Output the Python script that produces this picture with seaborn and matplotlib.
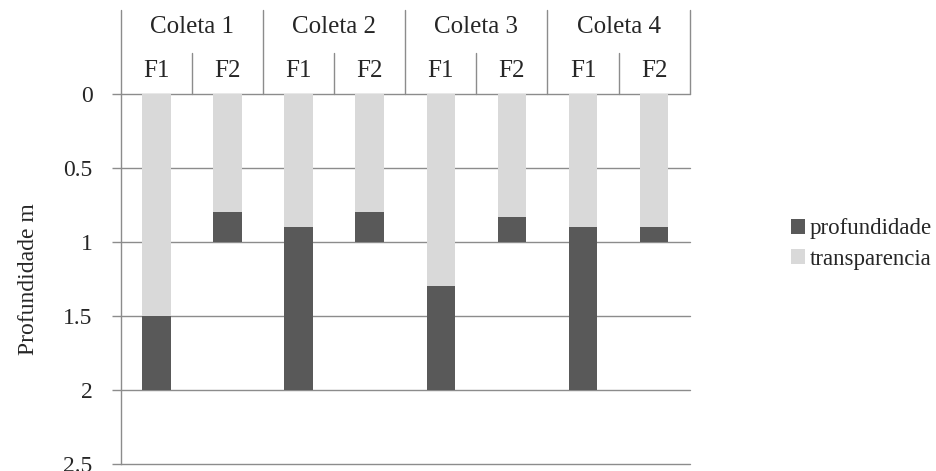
import matplotlib
matplotlib.use("Agg")
import matplotlib.pyplot as plt
import seaborn as sns
import pandas as pd

# Sampling campaigns, sites within each, and the measured values (m)
coletas = ["Coleta 1", "Coleta 2", "Coleta 3", "Coleta 4"]
sites = ["F1", "F2"]
profundidade = [2.0, 1.0, 2.0, 1.0, 2.0, 1.0, 2.0, 1.0]
transparencia = [1.5, 0.8, 0.9, 0.8, 1.3, 0.83, 0.9, 0.9]
yticks = [0, 0.5, 1, 1.5, 2, 2.5]
ytick_labels = ["0", "0.5", "1", "1.5", "2", "2.5"]

keys = [f"{c}|{s}" for c in coletas for s in sites]
df = pd.DataFrame({"key": keys, "profundidade": profundidade,
                   "transparencia": transparencia})

sns.set_theme(style="white")
plt.rcParams["font.family"] = ["Liberation Serif", "DejaVu Serif"]

DARK = "#595959"
LIGHT = "#d9d9d9"
GRID = "#8c8c8c"

fig = plt.figure(figsize=(9.37, 4.71), dpi=100)
ax = fig.add_axes([0.129, 0.0149, 0.607, 0.7855])

sns.barplot(data=df, x="key", y="profundidade", order=keys, color=DARK,
            saturation=1, width=0.4, linewidth=0, ax=ax,
            label="profundidade", zorder=3)
sns.barplot(data=df, x="key", y="transparencia", order=keys, color=LIGHT,
            saturation=1, width=0.4, linewidth=0, ax=ax,
            label="transparencia", zorder=4)

ax.set_ylim(2.5, 0)
ax.set_xlim(-0.5, len(keys) - 0.5)
ax.set_yticks(yticks)
ax.set_yticklabels(ytick_labels, fontsize=17)
ax.tick_params(axis="y", length=6.5, width=1, color=GRID, pad=14, left=True)
ax.set_xticks([])
ax.set_xlabel("")
ax.set_ylabel("Profundidade m", fontsize=17)
ax.yaxis.set_label_coords(-0.144, 0.5)
for y in yticks:
    ax.axhline(y, color=GRID, lw=1, zorder=1, clip_on=False)
for side in ["top", "right", "bottom"]:
    ax.spines[side].set_visible(False)
ax.spines["left"].set_color(GRID)
ax.spines["left"].set_linewidth(1)

# Two-level category header above the plot
n = len(keys)
to_ax = lambda xd: (xd + 0.5) / n
top_coleta = 1.227
top_site = 1.111
for i, c in enumerate(coletas):
    x0 = 2 * i - 0.5
    ax.text(to_ax(x0 + 1), 1.181, c, transform=ax.transAxes, ha="center",
            va="center", fontsize=18)
    for j, s in enumerate(sites):
        ax.text(to_ax(x0 + 0.5 + j), 1.062, s, transform=ax.transAxes,
                ha="center", va="center", fontsize=18)
    ax.plot([to_ax(x0 + 1)] * 2, [1.0, top_site], transform=ax.transAxes,
            color=GRID, lw=1, clip_on=False)
for k in range(len(coletas) + 1):
    xk = to_ax(2 * k - 0.5)
    ax.plot([xk, xk], [1.0, top_coleta], transform=ax.transAxes,
            color=GRID, lw=1, clip_on=False)

ax.legend(loc="center left", bbox_to_anchor=(0.832, 0.482),
          bbox_transform=fig.transFigure, frameon=False, borderpad=0,
          fontsize=16.5, handlelength=0.6, handleheight=0.6,
          handletextpad=0.2, labelspacing=0.4)

fig.savefig("out.png", dpi=100)
